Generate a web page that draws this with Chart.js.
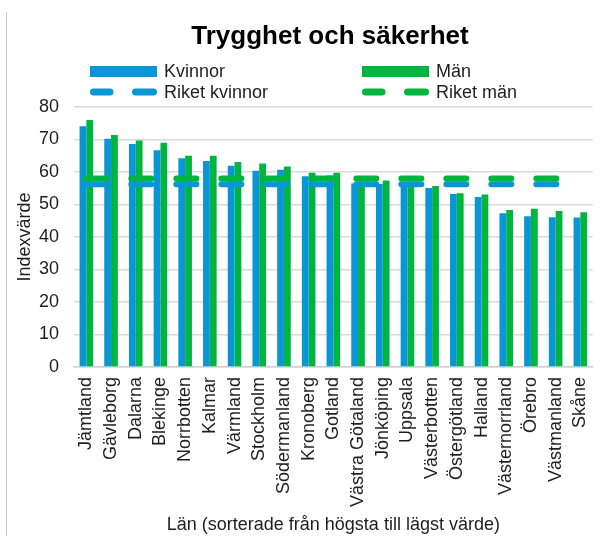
<!DOCTYPE html>
<html>
<head>
<meta charset="utf-8">
<script src="https://cdn.jsdelivr.net/npm/chart.js@4/dist/chart.umd.min.js"></script>
<style>
  html, body { margin: 0; padding: 0; background: #fff; overflow: hidden; }
  #wrap { width: 612px; height: 536px; }
</style>
</head>
<body>
<div id="wrap"><canvas id="chart" width="612" height="536"></canvas></div>
<script>
// Län, sorterade från högsta till lägst värde
const lan = ['Jämtland', 'Gävleborg', 'Dalarna', 'Blekinge', 'Norrbotten', 'Kalmar', 'Värmland',
  'Stockholm', 'Södermanland', 'Kronoberg', 'Gotland', 'Västra Götaland', 'Jönköping', 'Uppsala',
  'Västerbotten', 'Östergötland', 'Halland', 'Västernorrland', 'Örebro', 'Västmanland', 'Skåne'];

const kvinnor = [74.1, 70.2, 68.6, 66.7, 64.2, 63.4, 61.9, 60.4, 60.7, 58.7, 58.9, 56.5, 56.3, 56.0,
  55.1, 53.2, 52.3, 47.3, 46.4, 46.1, 46.0];
const man = [76.0, 71.4, 69.7, 69.0, 65.0, 65.0, 63.1, 62.6, 61.7, 59.8, 59.8, 57.0, 57.4, 55.6,
  55.7, 53.5, 53.1, 48.3, 48.7, 48.0, 47.6];

const riketKvinnor = 56.2;
const riketMan = 58.0;

const yTicks = [0, 10, 20, 30, 40, 50, 60, 70, 80];

const BLUE = '#0896d6';
const GREEN = '#00b53e';
const FONT = '"Liberation Sans", Arial, sans-serif';
const TEXT = '#1e1e1e';

// titel, förklaring och ram ritas för hand
const headerPlugin = {
  id: 'header',
  afterDraw(chart) {
    const ctx = chart.ctx;
    ctx.save();
    ctx.strokeStyle = '#c8c8c8';
    ctx.lineWidth = 1;
    ctx.beginPath();
    ctx.moveTo(6.5, 12);
    ctx.lineTo(6.5, 536);
    ctx.stroke();

    ctx.fillStyle = '#000';
    ctx.font = 'bold 26px ' + FONT;
    ctx.textAlign = 'center';
    ctx.textBaseline = 'middle';
    ctx.fillText('Trygghet och säkerhet', 330, 37);

    const ds = chart.data.datasets;
    const items = [
      { ds: ds[0], x: 90, y: 71 },
      { ds: ds[1], x: 362, y: 71 },
      { ds: ds[2], x: 90, y: 92 },
      { ds: ds[3], x: 362, y: 92 }
    ];
    ctx.textAlign = 'left';
    ctx.font = '18px ' + FONT;
    items.forEach(it => {
      const col = it.ds.borderColor;
      if (it.ds.type === 'line') {
        ctx.strokeStyle = col;
        ctx.lineWidth = 7;
        ctx.lineCap = 'round';
        ctx.beginPath();
        ctx.moveTo(it.x + 3.5, it.y); ctx.lineTo(it.x + 20, it.y);
        ctx.moveTo(it.x + 45.5, it.y); ctx.lineTo(it.x + 63.5, it.y);
        ctx.stroke();
      } else {
        ctx.fillStyle = col;
        ctx.fillRect(it.x, it.y - 5, 67, 11);
      }
      ctx.fillStyle = TEXT;
      ctx.fillText(it.ds.label, it.x + 74, it.y + 1);
    });
    ctx.restore();
  }
};

const ctx = document.getElementById('chart').getContext('2d');
const chart = new Chart(ctx, {
  type: 'bar',
  data: {
    labels: lan,
    datasets: [
      {
        label: 'Kvinnor',
        data: kvinnor,
        backgroundColor: BLUE,
        borderColor: BLUE,
        borderWidth: 0,
        order: 2
      },
      {
        label: 'Män',
        data: man,
        backgroundColor: GREEN,
        borderColor: GREEN,
        borderWidth: 0,
        order: 2
      },
      {
        type: 'line',
        label: 'Riket kvinnor',
        data: lan.map(() => riketKvinnor),
        borderColor: BLUE,
        borderWidth: 6,
        borderDash: [20, 25],
        borderCapStyle: 'round',
        pointRadius: 0,
        fill: false,
        order: 1
      },
      {
        type: 'line',
        label: 'Riket män',
        data: lan.map(() => riketMan),
        borderColor: GREEN,
        borderWidth: 6,
        borderDash: [20, 25],
        borderCapStyle: 'round',
        pointRadius: 0,
        fill: false,
        order: 0
      }
    ]
  },
  options: {
    responsive: false,
    animation: false,
    devicePixelRatio: 1,
    layout: { padding: { top: 107, left: 0, right: 3, bottom: 0 } },
    datasets: {
      bar: { categoryPercentage: 0.55, barPercentage: 1 }
    },
    plugins: {
      legend: { display: false },
      title: { display: false },
      tooltip: { enabled: false }
    },
    scales: {
      x: {
        grid: { display: false, drawTicks: false },
        border: { display: true, color: '#d0d0d0', width: 1.5 },
        ticks: {
          autoSkip: false,
          maxRotation: 90,
          minRotation: 90,
          padding: 10,
          color: TEXT,
          font: { family: FONT, size: 18 }
        },
        title: {
          display: true,
          text: 'Län (sorterade från högsta till lägst värde)',
          color: TEXT,
          font: { family: FONT, size: 18 },
          padding: 0
        },
        afterFit(scale) { scale.height = 169; }
      },
      y: {
        min: 0,
        max: 80,
        afterBuildTicks(scale) { scale.ticks = yTicks.map(v => ({ value: v })); },
        grid: { color: '#d9d9d9', lineWidth: 1.5, drawTicks: false },
        border: { display: false },
        ticks: {
          padding: 15,
          color: TEXT,
          font: { family: FONT, size: 18 }
        },
        title: {
          display: true,
          text: 'Indexvärde',
          color: TEXT,
          font: { family: FONT, size: 18 },
          padding: { top: 14, bottom: 0 }
        },
        afterFit(scale) { scale.width = 74; }
      }
    }
  },
  plugins: [headerPlugin]
});
</script>
</body>
</html>
